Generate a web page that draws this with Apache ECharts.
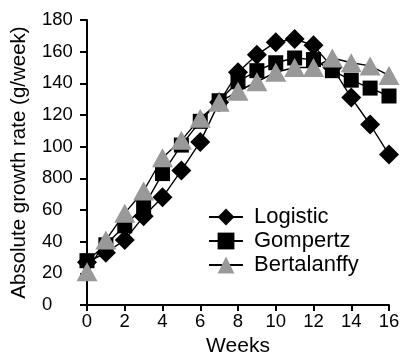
<!DOCTYPE html>
<html><head><meta charset="utf-8">
<script src="https://cdn.jsdelivr.net/npm/echarts@6/dist/echarts.min.js"></script>
<style>html,body{margin:0;padding:0;background:#fff}#c{width:404px;height:356px}</style>
</head><body><div id="c"></div>
<script>
const weeks = [0,1,2,3,4,5,6,7,8,9,10,11,12,13,14,15,16];
const logistic = [27,33,41,56,68,85,103,128,147,158,166,168,164,150,131,114,95];
const gompertz = [28,38,50,62,83,101,116,129,141,148,153,156,155,148,142,137,132];
const bertalanffy = [21,41,58,72,93,104,118,128,135,141,147,150,150,156,153,151,145];
const xTickLabels = ['0','2','4','6','8','10','12','14','16'];
const yTickValues = [0,20,40,60,80,100,120,140,160,180];
const yTickLabels = ['0','20','40','60','800','100','120','140','160','180'];

const font = 'Liberation Sans, Arial, sans-serif';
function pairs(v){ return weeks.map((w,i)=>[w,v[i]]); }
const chart = echarts.init(document.getElementById('c'));
const mk = (name, data, symbol, size, color, z) => ({
  name, type:'line', data:pairs(data), symbol, symbolSize:size,
  lineStyle:{color:'#000', width:1.4}, itemStyle:{color:color, borderWidth:0},
  emphasis:{disabled:true}, z, animation:false
});
chart.setOption({
  animation:false,
  grid:{left:87, right:15, top:20, bottom:51, containLabel:false, outerBoundsMode:'none'},
  xAxis:{type:'value', min:0, max:16, interval:2,
    name:'Weeks', nameLocation:'middle', nameGap:31,
    nameTextStyle:{fontFamily:font, fontSize:21, color:'#000'},
    axisLine:{onZero:false, lineStyle:{color:'#000', width:2}},
    axisTick:{show:true, length:6, lineStyle:{color:'#000', width:2}},
    axisLabel:{fontFamily:font, fontSize:18.5, color:'#000', margin:7,
      formatter:(v)=>xTickLabels[v/2]},
    splitLine:{show:false}},
  yAxis:{type:'value', min:0, max:180, interval:20,
    name:'Absolute growth rate (g/week)', nameLocation:'middle', nameGap:57,
    nameTextStyle:{fontFamily:font, fontSize:20.5, color:'#000'},
    axisLine:{show:true, lineStyle:{color:'#000', width:2}},
    axisTick:{show:true, length:7, lineStyle:{color:'#000', width:2}},
    axisLabel:{fontFamily:font, fontSize:18.5, color:'#000', margin:45, align:'left',
      formatter:(v)=>yTickLabels[yTickValues.indexOf(v)]},
    splitLine:{show:false}},
  legend:{left:203, top:201, orient:'vertical', itemGap:2, itemWidth:34, itemHeight:21,
    textStyle:{fontFamily:font, fontSize:22, color:'#000', padding:[0,0,0,6]},
    data:['Logistic','Gompertz','Bertalanffy']},
  series:[
    mk('Logistic', logistic, 'diamond', 20, '#000000', 2),
    mk('Gompertz', gompertz, 'rect', 15, '#000000', 3),
    mk('Bertalanffy', bertalanffy, 'triangle', [21,19], '#999999', 4)
  ]
});
</script></body></html>
